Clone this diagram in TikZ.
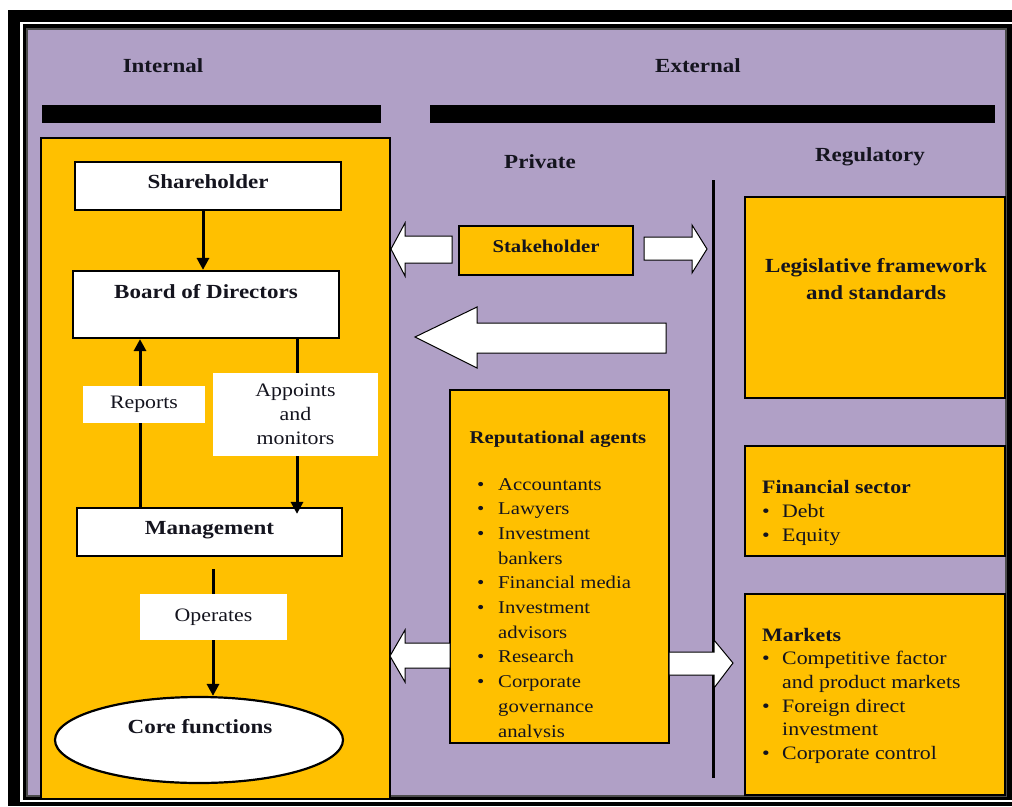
\documentclass[tikz,border=0pt]{standalone}
\usepackage{fontspec}
\setmainfont{Liberation Serif}[FakeStretch=1.15]
\usetikzlibrary{arrows.meta,shapes.geometric}
\definecolor{lav}{RGB}{176,160,198}
\definecolor{gold}{RGB}{255,192,0}
\definecolor{ink}{RGB}{20,20,30}
\tikzset{
  wbox/.style={draw=black, line width=2.2pt, fill=white, inner sep=0pt},
  ybox/.style={draw=black, line width=2.2pt, fill=gold, inner sep=0pt},
  lbl/.style={fill=white, inner sep=0pt, text=ink, align=center},
  txt/.style={text=ink, inner sep=0pt, font=\fontsize{19}{24}\selectfont},
  btxt/.style={text=ink, inner sep=0pt, font=\fontsize{20}{27}\selectfont\bfseries},
  conn/.style={line width=3pt, -{Triangle[length=12pt,width=12pt]}},
  blockarrow/.style={draw=black, line width=1pt, fill=white, line join=miter},
}
\begin{document}
\begin{tikzpicture}[x=1pt,y=-1pt]
\useasboundingbox (0,0) rectangle (1012,806);
% frame
\fill[black] (8,10) rectangle (1012,806);
\draw[white, line width=2.2pt] (21.5,23) rectangle (1030,801);
\fill[lav] (27,29) rectangle (1006,796);
\draw[black!70, line width=1.5pt] (27,29) rectangle (1006,796);
% headers
\node[btxt] (hin) at (163,66) {Internal};
\node[btxt] (hex) at (698,66) {External};
\fill[black] (42,105) rectangle (381,123);
\fill[black] (430,105) rectangle (995,123);
% internal box
\draw[ybox] (41,138) rectangle (390,799);
\node[wbox, minimum width=266pt, minimum height=48pt] (sh) at (208,186) {};
\node[btxt] (sht) at (208,182) {Shareholder};
\node[wbox, minimum width=266pt, minimum height=67pt] (bod) at (206,304.5) {};
\node[btxt] (bodt) at (206,292) {Board of Directors};
\node[wbox, minimum width=265pt, minimum height=48pt] (mg) at (209.5,532) {};
\node[btxt] (mgt) at (209.5,530) {Management};
\node[draw=black, line width=2.2pt, fill=white, ellipse, minimum width=288pt, minimum height=86pt, inner sep=0pt] (core) at (199,740) {};
\node[btxt] (coret) at (200,727) {Core functions};
\draw[conn] (sh.south -| bod.north) ++(-3,0) coordinate (s1) -- (s1 |- bod.north);
\coordinate (rx) at (140,400);
\coordinate (ax) at (297,400);
\coordinate (ox) at (213,600);
\draw[conn] (mg.north -| rx) -- (bod.south -| rx);
\draw[conn] (bod.south -| ax) -- ([yshift=-7pt]mg.north -| ax);
\draw[conn, shorten <=12pt] (mg.south -| ox) -- (core.north -| ox);
\node[lbl, minimum width=122pt, minimum height=37pt, font=\fontsize{19}{24}\selectfont] (rep) at (144,404.5) {Reports};
\node[lbl, minimum width=165pt, minimum height=83pt, font=\fontsize{19}{24}\selectfont] (app) at (295.5,414.5) {Appoints\\and\\monitors};
\node[lbl, minimum width=147pt, minimum height=46pt, font=\fontsize{19}{24}\selectfont] (ope) at (213.5,617) {Operates};
% private / regulatory
\node[btxt] (priv) at (540,162) {Private};
\node[btxt] (regu) at (870,157) {Regulatory};
\draw[line width=3pt] (713,180) coordinate (vt) -- (713,778) coordinate (vb);
\node[ybox, minimum width=174pt, minimum height=49pt] (stk) at (546,250.5) {};
\node[btxt, font=\fontsize{18}{22}\selectfont\bfseries] (stkt) at (546,246) {Stakeholder};
% block arrows
\draw[blockarrow] (452,236) -- (405,236) -- (405,223) -- (391,249) -- (405,276) -- (405,263) -- (452,263) -- cycle;
\draw[blockarrow] (644,237) -- (692,237) -- (692,225) -- (707,249) -- (692,273) -- (692,260) -- (644,260) -- cycle;
\draw[blockarrow] (666,323) -- (477,323) -- (477,307) -- (415,337) -- (477,368) -- (477,353) -- (666,353) -- cycle;
% regulatory boxes
\node[ybox, minimum width=260pt, minimum height=201pt] (leg) at (875,297.5) {};
\node[btxt, align=center] (legt) at (876,279) {Legislative framework\\and standards};
\node[ybox, minimum width=260pt, minimum height=110pt] (fin) at (875,501) {};
\node[txt, anchor=west, align=left] (fint) at (762,513) {\textbf{Financial sector}\\\makebox[20pt][l]{\textbullet}Debt\\\makebox[20pt][l]{\textbullet}Equity};
\node[ybox, minimum width=260pt, minimum height=201pt] (mkt) at (875,694.5) {};
\node[txt, anchor=north west, align=left, font=\fontsize{19}{23.6}\selectfont] (mktt) at (762,628) {\textbf{Markets}\\\makebox[20pt][l]{\textbullet}Competitive factor\\\hspace*{20pt}and product markets\\\makebox[20pt][l]{\textbullet}Foreign direct\\\hspace*{20pt}investment\\\makebox[20pt][l]{\textbullet}Corporate control};
% reputational agents
\node[ybox, minimum width=219pt, minimum height=353pt] (ra) at (559.5,566.5) {};
\node[btxt, font=\fontsize{18}{22}\selectfont\bfseries] (rat) at (558,439) {Reputational agents};
\begin{scope}
\clip (452,392) rectangle (667,737);
\node[txt, anchor=north west, align=left, font=\fontsize{18}{24.7}\selectfont] (ral) at (477,478) {\makebox[21pt][l]{\textbullet}Accountants\\\makebox[21pt][l]{\textbullet}Lawyers\\\makebox[21pt][l]{\textbullet}Investment\\\hspace*{21pt}bankers\\\makebox[21pt][l]{\textbullet}Financial media\\\makebox[21pt][l]{\textbullet}Investment\\\hspace*{21pt}advisors\\\makebox[21pt][l]{\textbullet}Research\\\makebox[21pt][l]{\textbullet}Corporate\\\hspace*{21pt}governance\\\hspace*{21pt}analysis};
\end{scope}
\draw[blockarrow] (450,643) -- (405,643) -- (405,630) -- (390,656) -- (405,682) -- (405,668) -- (450,668) -- cycle;
\draw[blockarrow] (669,652) -- (714,652) -- (714,640) -- (733,663) -- (714,688) -- (714,675) -- (669,675) -- cycle;
\end{tikzpicture}
\end{document}
